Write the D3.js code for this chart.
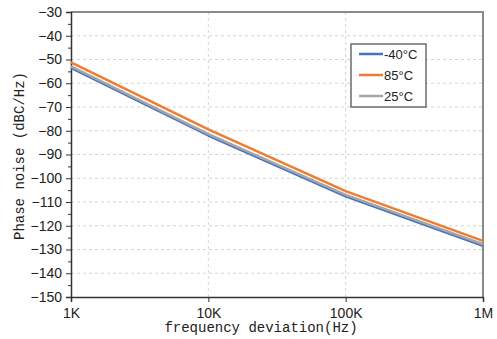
<!DOCTYPE html>
<html>
<head>
<meta charset="utf-8">
<script src="https://cdn.jsdelivr.net/npm/d3@7"></script>
<style>
  html, body { margin: 0; padding: 0; background: #fff; }
  svg { display: block; }
</style>
</head>
<body>
<svg id="chart" width="497" height="339"></svg>
<script>
// Phase noise vs. frequency offset at three temperatures
const freqs = [1e3, 1e4, 1e5, 1e6];
const freqLabels = ["1K", "10K", "100K", "1M"];
const seriesNames = ["-40°C", "85°C", "25°C"];
const seriesColors = ["#4472C4", "#ED7D31", "#A5A5A5"];
const noiseMinus40 = [-53.5, -82.0, -107.6, -128.4];
const noise85 = [-51.2, -79.4, -105.4, -126.4];
const noise25 = [-52.9, -81.4, -107.0, -127.8];
const yTicks = [-30, -40, -50, -60, -70, -80, -90, -100, -110, -120, -130, -140, -150];

const seriesValues = [noiseMinus40, noise85, noise25];

const svg = d3.select("#chart");
const margin = { left: 71, right: 14, top: 12, bottom: 42 };
const W = 497, H = 339;
const plotW = W - margin.left - margin.right;
const plotH = H - margin.top - margin.bottom;

const x = d3.scaleLog().domain([1e3, 1e6]).range([margin.left, margin.left + plotW]);
const y = d3.scaleLinear().domain([-150, -30]).range([margin.top + plotH, margin.top]);

const tickFont = "'Liberation Sans', Arial, sans-serif";
const titleFont = "'Liberation Mono', 'Courier New', monospace";

// dashed grid
const grid = svg.append("g");
grid.selectAll("line.h").data(yTicks.filter(v => v > -150 && v < -30)).join("line")
  .attr("x1", margin.left).attr("x2", margin.left + plotW)
  .attr("y1", d => y(d)).attr("y2", d => y(d))
  .attr("stroke", "#d4d4d4").attr("stroke-width", 1).attr("stroke-dasharray", "3,3");
grid.selectAll("line.v").data(freqs.slice(1, -1)).join("line")
  .attr("y1", margin.top).attr("y2", margin.top + plotH)
  .attr("x1", d => x(d)).attr("x2", d => x(d))
  .attr("stroke", "#d4d4d4").attr("stroke-width", 1).attr("stroke-dasharray", "3,3");

// top and right frame
svg.append("path")
  .attr("d", `M${margin.left},${margin.top}H${margin.left + plotW}V${margin.top + plotH}`)
  .attr("fill", "none").attr("stroke", "#8a8a8a").attr("stroke-width", 2);

// y axis with minor ticks
const yAxis = d3.axisLeft(y).tickValues(yTicks).tickSize(5).tickPadding(4)
  .tickFormat(d => d3.format("d")(d).replace("-", "\u2212"));
const gy = svg.append("g").attr("transform", `translate(${margin.left},0)`).call(yAxis);
gy.select(".domain").attr("stroke", "#333").attr("stroke-width", 1.5);
gy.selectAll(".tick line").attr("stroke", "#333");
gy.selectAll("text").attr("font-family", tickFont).attr("font-size", 14).attr("fill", "#222");
svg.append("g").attr("transform", `translate(${margin.left},0)`)
  .call(d3.axisLeft(y).tickValues(d3.range(-145, -30, 10)).tickSize(3).tickFormat(""))
  .call(g => g.select(".domain").remove())
  .selectAll("line").attr("stroke", "#333");

// x axis
const xAxis = d3.axisBottom(x).tickValues(freqs).tickSize(5).tickPadding(6)
  .tickFormat((d, i) => freqLabels[i]);
const gx = svg.append("g").attr("transform", `translate(0,${margin.top + plotH})`).call(xAxis);
gx.select(".domain").attr("stroke", "#333").attr("stroke-width", 1.5);
gx.selectAll(".tick line").attr("stroke", "#333");
gx.selectAll("text").attr("font-family", tickFont).attr("font-size", 14).attr("fill", "#222");

// curves: -40°C underneath, 25°C over it, 85°C on top
const line = d3.line().x((d, i) => x(freqs[i])).y(d => y(d));
const drawOrder = [0, 2, 1];
svg.append("g").selectAll("path").data(drawOrder).join("path")
  .attr("d", i => line(seriesValues[i]))
  .attr("fill", "none")
  .attr("stroke", i => seriesColors[i])
  .attr("stroke-width", 2.5)
  .attr("stroke-linejoin", "round");

// axis titles
svg.append("text")
  .attr("x", 261).attr("y", 332)
  .attr("text-anchor", "middle")
  .attr("font-family", titleFont).attr("font-size", 14).attr("fill", "#222")
  .text("frequency deviation(Hz)");
svg.append("text")
  .attr("transform", "translate(24,156) rotate(-90)")
  .attr("text-anchor", "middle")
  .attr("font-family", titleFont).attr("font-size", 14).attr("fill", "#222")
  .text("Phase noise (dBC/Hz)");

// legend
const lg = svg.append("g");
lg.append("rect").attr("x", 351).attr("y", 44).attr("width", 75).attr("height", 63)
  .attr("fill", "#fff").attr("stroke", "#6b6b6b").attr("stroke-width", 1.5);
const rows = lg.selectAll("g.row").data(seriesNames).join("g")
  .attr("transform", (d, i) => `translate(359,${54 + i * 21})`);
rows.append("line").attr("x1", 0).attr("x2", 24)
  .attr("stroke", (d, i) => seriesColors[i]).attr("stroke-width", 2.5);
rows.append("text").attr("x", 25).attr("y", 5)
  .attr("font-family", tickFont).attr("font-size", 13).attr("fill", "#222")
  .text(d => d);
</script>
</body>
</html>
